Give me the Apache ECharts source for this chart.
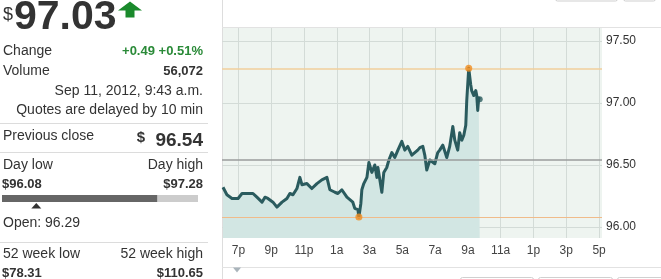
<!DOCTYPE html>
<html><head><meta charset="utf-8">
<script src="https://cdn.jsdelivr.net/npm/echarts@6/dist/echarts.min.js"></script>
<style>html,body{margin:0;padding:0;background:#fff;overflow:hidden}#c{width:661px;height:279px}</style>
</head><body><div id="c"></div>
<script>
// hours after 6 p.m. (Sep 10) for each price reading
const hours = [0.06,0.30,0.61,0.98,1.22,1.89,2.13,2.44,2.62,2.80,3.11,3.35,3.66,3.96,4.14,4.33,4.57,4.75,4.88,5.18,5.48,5.79,6.09,6.40,6.58,6.89,7.07,7.31,7.62,7.80,7.98,8.10,8.29,8.35,8.47,8.53,8.65,8.84,8.96,9.14,9.32,9.45,9.51,9.75,9.87,10.05,10.18,10.36,10.54,10.73,10.97,11.15,11.33,11.58,11.76,11.94,12.07,12.25,12.37,12.49,12.68,12.98,13.16,13.28,13.47,13.71,13.89,14.08,14.20,14.38,14.50,14.63,14.75,14.87,14.93,15.05,15.17,15.23,15.36,15.48,15.54,15.60,15.66,15.72];
const prices = [96.32,96.26,96.23,96.23,96.27,96.27,96.24,96.20,96.24,96.23,96.20,96.16,96.20,96.23,96.27,96.26,96.31,96.40,96.34,96.35,96.31,96.35,96.38,96.40,96.30,96.28,96.27,96.30,96.24,96.22,96.20,96.15,96.14,96.08,96.19,96.30,96.35,96.40,96.52,96.44,96.50,96.40,96.48,96.28,96.44,96.48,96.54,96.60,96.56,96.62,96.69,96.62,96.65,96.58,96.60,96.62,96.64,96.65,96.58,96.46,96.54,96.51,96.60,96.62,96.66,96.56,96.65,96.81,96.70,96.62,96.76,96.70,96.74,96.82,97.02,97.28,97.15,97.10,97.06,97.10,97.06,96.94,97.04,97.03];
const xTickHours = [1,3,5,7,9,11,13,15,17,19,21,23];
const xTickLabels = ['7p','9p','11p','1a','3a','5a','7a','9a','11a','1p','3p','5p'];
const yTicks = [96.00,96.50,97.00,97.50];
const lastPrice = 97.03, prevClose = 96.54, dayLow = 96.08, dayHigh = 97.28, openPrice = 96.29;
const lowHour = 8.35, highHour = 15.05, lastHour = 15.72;
const week52Low = 78.31, week52High = 110.65;
const changeText = '+0.49 +0.51%', volumeText = '56,072';
const dateText = 'Sep 11, 2012, 9:43 a.m.', delayText = 'Quotes are delayed by 10 min';

const FF = 'Arial, "Liberation Sans", sans-serif';
function T(x, y, text, size, color, align, bold) {
  return { type: 'text', x: x, y: y, silent: true,
    style: { text: text, fill: color || '#333', font: (bold ? 'bold ' : '') + size + 'px ' + FF,
      align: align || 'left', verticalAlign: 'middle' } };
}
function L(x1, y1, x2, y2, color, w) {
  return { type: 'line', silent: true, shape: { x1: x1, y1: y1, x2: x2, y2: y2 },
    style: { stroke: color, lineWidth: w || 1 } };
}
const barL = 2, barW = 196;
const barPos = barL + (lastPrice - dayLow) / (dayHigh - dayLow) * barW;
const openPos = barL + (openPrice - dayLow) / (dayHigh - dayLow) * barW;

const graphics = [
  T(3, 15, '$', 18, '#333'),
  T(14, 18, lastPrice.toFixed(2), 41, '#333', 'left', true),
  { type: 'polygon', silent: true, shape: { points: [[118,10.5],[130,1.5],[142,10.5],[134.5,10.5],[134.5,17.5],[125.5,17.5],[125.5,10.5]] }, style: { fill: '#1a8a2c' } },
  T(3, 51, 'Change', 14, '#333'),
  T(203, 51, changeText, 13, '#2a8a38', 'right', true),
  T(3, 71, 'Volume', 14, '#333'),
  T(203, 71, volumeText, 13, '#333', 'right', true),
  T(203, 91, dateText, 14, '#333', 'right'),
  T(203, 110, delayText, 14, '#333', 'right'),
  L(0, 123.5, 208, 123.5, '#dcdcdc'),
  T(3, 136, 'Previous close', 14, '#333'),
  T(145, 138, '$', 15, '#333', 'right', true),
  T(203, 141, prevClose.toFixed(2), 19, '#333', 'right', true),
  L(0, 152.5, 208, 152.5, '#dcdcdc'),
  T(3, 165, 'Day low', 14, '#333'),
  T(203, 165, 'Day high', 14, '#333', 'right'),
  T(2, 184, '$' + dayLow.toFixed(2), 13, '#333', 'left', true),
  T(203, 184, '$' + dayHigh.toFixed(2), 13, '#333', 'right', true),
  { type: 'rect', silent: true, shape: { x: barL, y: 195, width: barW, height: 7 }, style: { fill: '#cccccc' } },
  { type: 'rect', silent: true, shape: { x: barL, y: 195, width: barPos - barL, height: 7 }, style: { fill: '#666666' } },
  { type: 'polygon', silent: true, shape: { points: [[openPos - 5, 208.5],[openPos, 203],[openPos + 5, 208.5]] }, style: { fill: '#333' } },
  T(3, 223, 'Open: ' + openPrice.toFixed(2), 14, '#333'),
  L(0, 242.5, 208, 242.5, '#dcdcdc'),
  T(3, 254, '52 week low', 14, '#333'),
  T(203, 254, '52 week high', 14, '#333', 'right'),
  T(2, 273, '$' + week52Low.toFixed(2), 13, '#333', 'left', true),
  T(203, 273, '$' + week52High.toFixed(2), 13, '#333', 'right', true),
  L(222.5, 0, 222.5, 279, '#dddddd'),
  L(222, 27.5, 661, 27.5, '#e2e2e2'),
  L(222, 267.5, 661, 267.5, '#e2e2e2'),
  { type: 'polygon', silent: true, shape: { points: [[233,267.5],[241,267.5],[237,272.5]] }, style: { fill: '#a9b4bb' } },
  { type: 'rect', silent: true, shape: { x: 555.5, y: -6, width: 62, height: 7, r: 2 }, style: { fill: '#fff', stroke: '#cfcfcf' } },
  { type: 'rect', silent: true, shape: { x: 623.5, y: -6, width: 32, height: 7, r: 2 }, style: { fill: '#fff', stroke: '#cfcfcf' } },
  { type: 'rect', silent: true, shape: { x: 460.5, y: 277.5, width: 73, height: 8, r: 2 }, style: { fill: '#fff', stroke: '#d0d0d0' } },
  { type: 'rect', silent: true, shape: { x: 538.5, y: 277.5, width: 74, height: 8, r: 2 }, style: { fill: '#fff', stroke: '#d0d0d0' } },
  { type: 'rect', silent: true, shape: { x: 617.5, y: 277.5, width: 50, height: 8, r: 2 }, style: { fill: '#fff', stroke: '#d0d0d0' } }
];

const chart = echarts.init(document.getElementById('c'), null, { renderer: 'canvas' });
chart.setOption({
  animation: false,
  backgroundColor: '#fff',
  grid: { left: 222, right: 59, top: 28, bottom: 41, show: true, backgroundColor: '#eef4f0', borderWidth: 0 },
  xAxis: {
    type: 'value', min: 0, max: 23.18,
    axisLine: { show: false },
    axisTick: { show: false, customValues: xTickHours },
    axisLabel: { customValues: xTickHours, margin: 7, color: '#444', fontSize: 12, fontFamily: FF,
      formatter: function (v) { const i = xTickHours.indexOf(Math.round(v)); return i >= 0 ? xTickLabels[i] : ''; } },
    splitLine: { show: true, lineStyle: { color: '#d3dbd7', width: 1 } }
  },
  yAxis: {
    type: 'value', position: 'right', min: 95.911, max: 97.605, scale: true,
    axisLine: { show: false },
    axisTick: { show: false, customValues: yTicks },
    axisLabel: { customValues: yTicks, margin: 4, color: '#333', fontSize: 12, fontFamily: FF,
      formatter: function (v) { return v.toFixed(2); } },
    splitLine: { show: true, lineStyle: { color: '#d3dbd7', width: 1 } }
  },
  series: [
    {
      type: 'line', data: hours.map((h, i) => [h, prices[i]]),
      symbol: 'none', z: 3,
      lineStyle: { color: '#2a5b5e', width: 3, join: 'round' },
      areaStyle: { color: '#d2e6e3', opacity: 1, origin: 'start' },
      markLine: {
        silent: true, symbol: 'none', label: { show: false }, animation: false,
        data: [
          { yAxis: dayHigh, lineStyle: { color: '#f1cf9c', width: 1.5, type: 'solid' } },
          { yAxis: dayLow, lineStyle: { color: '#f0bb8a', width: 1.2, type: 'solid' } },
          { yAxis: prevClose, lineStyle: { color: '#9a9d9c', width: 1.5, type: 'solid' } }
        ]
      }
    },
    {
      type: 'scatter', z: 5, symbolSize: 7, silent: true,
      itemStyle: { color: '#f08c1e' },
      data: [[lowHour, dayLow], [highHour, dayHigh]]
    },
    {
      type: 'scatter', z: 5, symbolSize: 6, silent: true,
      itemStyle: { color: '#2a5b5e' },
      data: [[lastHour, lastPrice]]
    }
  ],
  graphic: graphics
});
</script>
</body></html>
